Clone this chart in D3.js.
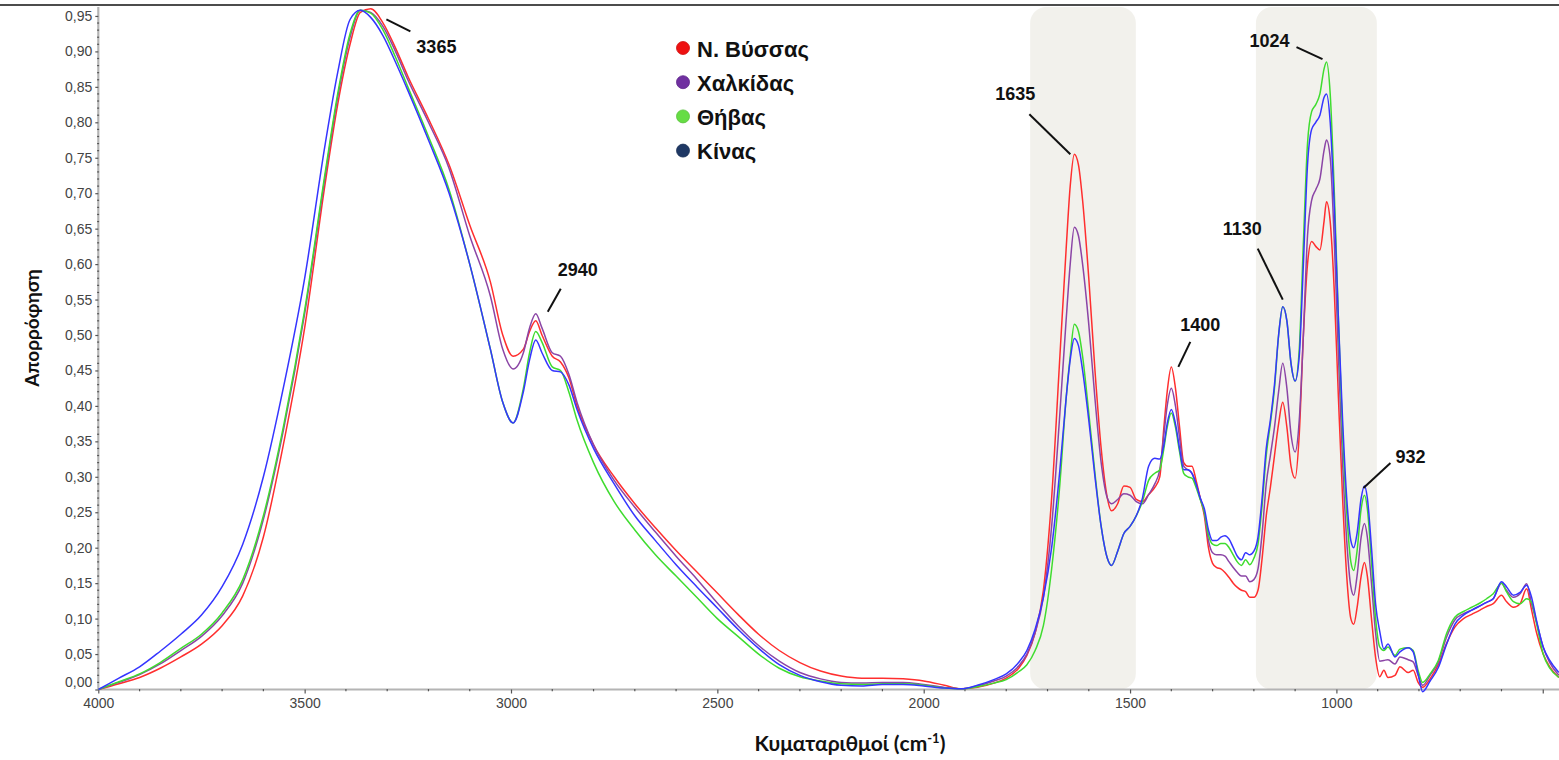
<!DOCTYPE html>
<html>
<head>
<meta charset="utf-8">
<script src="https://cdn.jsdelivr.net/npm/d3@7"></script>
<style>
  body { margin: 0; background: #fff; }
  svg { display: block; }
</style>
</head>
<body>
<svg id="chart" width="1559" height="760"></svg>
<script>
// FTIR absorbance spectra (wavenumber in cm-1)
const wavenumbers = [4000,3950,3900,3850,3800,3750,3700,3650,3600,3550,3500,3450,3420,3390,3365,3340,3310,3280,3250,3200,3150,3100,3050,3020,2995,2970,2955,2940,2925,2900,2880,2860,2840,2800,2750,2700,2650,2600,2550,2500,2450,2400,2350,2300,2250,2200,2150,2100,2050,2000,1950,1910,1870,1830,1800,1770,1750,1730,1710,1690,1670,1655,1645,1635,1625,1615,1600,1585,1570,1555,1545,1530,1515,1500,1485,1470,1455,1440,1428,1418,1410,1400,1390,1380,1370,1360,1350,1340,1330,1320,1310,1300,1290,1280,1270,1260,1250,1240,1230,1220,1210,1200,1190,1180,1170,1160,1150,1140,1130,1120,1110,1100,1090,1080,1070,1060,1050,1040,1030,1024,1015,1005,995,985,975,965,958,950,940,932,925,915,905,895,885,875,858,846,826,814,802,791,773,753,733,713,692,672,652,636,620,600,588,571,555,539,527,515,499,483,461];

const nVyssas = [0,0.008,0.017,0.03,0.046,0.064,0.09,0.132,0.215,0.35,0.51,0.715,0.825,0.91,0.955,0.96,0.94,0.905,0.865,0.805,0.74,0.655,0.575,0.5,0.47,0.48,0.505,0.52,0.5,0.47,0.462,0.44,0.4,0.345,0.3,0.262,0.228,0.196,0.166,0.136,0.106,0.078,0.055,0.038,0.026,0.019,0.016,0.016,0.015,0.012,0.006,0.001,0.003,0.009,0.016,0.03,0.048,0.08,0.14,0.27,0.47,0.62,0.71,0.755,0.74,0.69,0.58,0.45,0.34,0.27,0.252,0.262,0.287,0.285,0.268,0.265,0.275,0.285,0.3,0.37,0.42,0.455,0.425,0.37,0.32,0.315,0.315,0.295,0.27,0.245,0.2,0.178,0.172,0.17,0.165,0.158,0.15,0.144,0.14,0.138,0.13,0.13,0.14,0.185,0.245,0.285,0.33,0.375,0.405,0.37,0.315,0.298,0.36,0.5,0.6,0.632,0.625,0.62,0.66,0.688,0.66,0.56,0.41,0.27,0.16,0.1,0.092,0.115,0.16,0.179,0.16,0.1,0.045,0.018,0.027,0.017,0.02,0.032,0.024,0.027,0.01,0.003,0.015,0.035,0.065,0.088,0.1,0.106,0.112,0.117,0.121,0.133,0.124,0.116,0.121,0.142,0.112,0.08,0.05,0.032,0.017];

const chalkidas = [0,0.01,0.021,0.036,0.055,0.075,0.104,0.15,0.24,0.37,0.53,0.725,0.835,0.92,0.958,0.955,0.935,0.9,0.86,0.8,0.735,0.64,0.555,0.48,0.452,0.475,0.51,0.53,0.51,0.475,0.47,0.445,0.405,0.345,0.295,0.257,0.222,0.188,0.156,0.122,0.09,0.062,0.04,0.024,0.015,0.01,0.009,0.01,0.01,0.007,0.003,0.001,0.005,0.012,0.019,0.033,0.05,0.08,0.13,0.23,0.39,0.52,0.6,0.652,0.64,0.6,0.515,0.41,0.32,0.27,0.262,0.268,0.276,0.274,0.265,0.262,0.275,0.29,0.31,0.36,0.4,0.425,0.4,0.355,0.315,0.31,0.305,0.29,0.27,0.25,0.21,0.193,0.19,0.19,0.188,0.18,0.172,0.165,0.16,0.16,0.152,0.155,0.17,0.22,0.29,0.33,0.37,0.42,0.46,0.425,0.36,0.335,0.38,0.5,0.64,0.69,0.705,0.72,0.76,0.775,0.75,0.63,0.47,0.32,0.21,0.145,0.133,0.16,0.215,0.234,0.215,0.15,0.08,0.04,0.041,0.042,0.036,0.046,0.042,0.039,0.02,0.006,0.02,0.039,0.074,0.098,0.107,0.112,0.118,0.123,0.128,0.15,0.14,0.13,0.135,0.149,0.121,0.095,0.06,0.038,0.02];

const thivas = [0,0.011,0.022,0.038,0.058,0.078,0.108,0.155,0.245,0.375,0.535,0.73,0.84,0.925,0.958,0.954,0.93,0.892,0.85,0.78,0.705,0.6,0.48,0.405,0.376,0.425,0.475,0.505,0.49,0.455,0.45,0.42,0.38,0.32,0.265,0.225,0.19,0.16,0.13,0.1,0.075,0.05,0.03,0.018,0.012,0.008,0.007,0.008,0.008,0.006,0.002,0.001,0.004,0.009,0.014,0.025,0.035,0.055,0.09,0.17,0.29,0.41,0.47,0.515,0.505,0.47,0.39,0.305,0.23,0.185,0.175,0.195,0.22,0.23,0.245,0.265,0.295,0.305,0.31,0.34,0.37,0.39,0.37,0.335,0.305,0.3,0.298,0.285,0.268,0.25,0.218,0.205,0.203,0.206,0.206,0.2,0.19,0.18,0.175,0.183,0.176,0.185,0.205,0.26,0.33,0.375,0.425,0.5,0.54,0.52,0.46,0.435,0.48,0.63,0.77,0.815,0.825,0.84,0.875,0.885,0.84,0.7,0.52,0.36,0.25,0.18,0.168,0.195,0.255,0.274,0.255,0.18,0.1,0.06,0.055,0.06,0.048,0.057,0.059,0.055,0.027,0.01,0.022,0.041,0.079,0.102,0.11,0.116,0.122,0.128,0.135,0.15,0.138,0.124,0.121,0.128,0.123,0.093,0.05,0.03,0.017];

const kinas = [0,0.016,0.032,0.054,0.078,0.105,0.145,0.205,0.3,0.43,0.58,0.77,0.87,0.945,0.958,0.948,0.922,0.885,0.845,0.775,0.7,0.6,0.48,0.405,0.376,0.42,0.465,0.493,0.475,0.45,0.448,0.43,0.395,0.34,0.29,0.245,0.21,0.176,0.145,0.115,0.085,0.058,0.035,0.02,0.011,0.006,0.005,0.007,0.007,0.005,0.002,0.001,0.006,0.014,0.022,0.038,0.055,0.085,0.13,0.2,0.31,0.41,0.465,0.495,0.485,0.45,0.38,0.3,0.23,0.185,0.175,0.195,0.22,0.23,0.245,0.27,0.315,0.326,0.325,0.345,0.375,0.395,0.375,0.34,0.31,0.31,0.305,0.29,0.27,0.255,0.225,0.21,0.21,0.215,0.217,0.212,0.2,0.188,0.183,0.193,0.19,0.195,0.215,0.27,0.34,0.38,0.43,0.5,0.54,0.52,0.46,0.435,0.47,0.6,0.74,0.79,0.8,0.81,0.835,0.84,0.8,0.68,0.52,0.38,0.27,0.21,0.2,0.22,0.27,0.287,0.27,0.2,0.12,0.082,0.057,0.064,0.046,0.053,0.059,0.053,0.022,-0.003,0.012,0.031,0.064,0.092,0.105,0.112,0.118,0.123,0.128,0.152,0.145,0.133,0.137,0.147,0.13,0.097,0.06,0.041,0.024];

const seriesNames = ["Ν. Βύσσας", "Χαλκίδας", "Θήβας", "Κίνας"];
const seriesValues = [nVyssas, chalkidas, thivas, kinas];
const lineColors = ["#ff2e2e", "#8b45a6", "#3fdc2f", "#3535ff"];
const legendColors = ["#ee1111", "#7030a0", "#66dd44", "#1f3864"];

const xMajorTicks = [4000, 3500, 3000, 2500, 2000, 1500, 1000, 500];
const xTickLabels = [4000, 3500, 3000, 2500, 2000, 1500, 1000];
const yTickValues = [0, 0.05, 0.10, 0.15, 0.20, 0.25, 0.30, 0.35, 0.40, 0.45, 0.50, 0.55, 0.60, 0.65, 0.70, 0.75, 0.80, 0.85, 0.90, 0.95];
const peakLabels = [3365, 2940, 1635, 1400, 1130, 1024, 932];
const highlightBands = [[1742, 1486], [1195, 902]];

const xAxisTitle = "Κυματαριθμοί (cm";
const yAxisTitle = "Απορρόφηση";

// ---- layout ----
const W = 1559, H = 760;
const left = 98.3, zeroY = 689.5;
const x = d3.scaleLinear().domain([4000, 400]).range([left, left + 3600 * 0.4127]);
const y = d3.scaleLinear().domain([0, 0.962]).range([zeroY, zeroY - 0.962 * 709]);

const svg = d3.select("#chart");
const tickFont = "'Liberation Sans', Arial, sans-serif";

svg.append("defs").append("clipPath").attr("id", "plot-clip")
  .append("rect").attr("x", left).attr("y", 0).attr("width", W - left).attr("height", H);

// top frame line
svg.append("line").attr("x1", 0).attr("x2", W).attr("y1", 5).attr("y2", 5)
  .attr("stroke", "#111").attr("stroke-width", 1.6);

// highlighted regions
svg.append("g").selectAll("rect").data(highlightBands).join("rect")
  .attr("x", d => x(d[0]))
  .attr("width", d => x(d[1]) - x(d[0]))
  .attr("y", 7)
  .attr("height", zeroY - 7)
  .attr("rx", 16).attr("ry", 16)
  .attr("fill", "#f2f1ec");

// axes
const fmtY = v => d3.format(".2f")(v).replace(".", ",");

const yAxisG = svg.append("g").attr("transform", `translate(${left},0)`)
  .call(d3.axisLeft(y).tickValues(yTickValues).tickSize(3).tickPadding(3).tickFormat(fmtY));
const xAxisG = svg.append("g").attr("transform", `translate(0,${zeroY})`)
  .call(d3.axisBottom(x).tickValues(xMajorTicks).tickSize(4).tickPadding(5)
    .tickFormat(d => xTickLabels.includes(d) ? d : ""));

[yAxisG, xAxisG].forEach(g => {
  g.select(".domain").attr("stroke", "#b4b4b4").attr("stroke-width", 2.2);
  g.selectAll(".tick line").attr("stroke", "#555").attr("stroke-width", 1.2);
  g.selectAll(".tick text").attr("fill", "#444").attr("font-size", 14).attr("font-family", tickFont);
});
yAxisG.select(".domain").attr("d", `M0,${zeroY}V7`);
xAxisG.select(".domain").attr("d", `M${left},0H${W}`);
yAxisG.selectAll(".tick").filter(d => d === 0).select("text").attr("dy", "-0.25em");

// minor ticks
const minorX = d3.range(4000, 450, -100).filter(v => !xMajorTicks.includes(v));
svg.append("g").selectAll("line").data(minorX).join("line")
  .attr("x1", d => x(d)).attr("x2", d => x(d))
  .attr("y1", zeroY - 0.5).attr("y2", zeroY + 1.8)
  .attr("stroke", "#555").attr("stroke-width", 1.2);
const isMinorY = v => Math.round(v * 100) % 5 !== 0;
const minorY = d3.range(1, 96).map(i => i / 100).filter(isMinorY);
svg.append("g").selectAll("line").data(minorY).join("line")
  .attr("x1", left - 1.2).attr("x2", left + 0.8)
  .attr("y1", d => y(d)).attr("y2", d => y(d))
  .attr("stroke", "#555").attr("stroke-width", 1.2);

// spectra
const line = d3.line()
  .x(d => x(d[0]))
  .y(d => y(d[1]))
  .curve(d3.curveMonotoneX);

const plot = svg.append("g").attr("clip-path", "url(#plot-clip)");
seriesValues.forEach((vals, i) => {
  plot.append("path")
    .datum(wavenumbers.map((w, k) => [w, vals[k]]))
    .attr("fill", "none")
    .attr("stroke", lineColors[i])
    .attr("stroke-width", 1.5)
    .attr("stroke-linejoin", "round")
    .attr("d", line);
});

// peak annotations: leader line offsets and label placement relative to the peak
const annotationLayout = {
  3365: { line: [26, 9, 50, 21], text: [56, 43], anchor: "start" },
  2940: { line: [12, -2, 25, -25], text: [22, -38], anchor: "start" },
  1635: { line: [-4, 0, -45, -40], text: [-39, -54], anchor: "end" },
  1400: { line: [7, 0, 19, -25], text: [9, -36], anchor: "start" },
  1130: { line: [0, -7, -25, -58], text: [-21, -72], anchor: "end" },
  1024: { line: [-4, -3, -30, -15], text: [-37, -15], anchor: "end" },
  932:  { line: [-1, 2, 26, -23], text: [31, -23], anchor: "start" }
};
const ann = svg.append("g");
peakLabels.forEach(w => {
  const k = wavenumbers.indexOf(w);
  const peak = d3.max(seriesValues, s => s[k]);
  const px = x(w), py = y(peak);
  const L = annotationLayout[w];
  ann.append("line")
    .attr("x1", px + L.line[0]).attr("y1", py + L.line[1])
    .attr("x2", px + L.line[2]).attr("y2", py + L.line[3])
    .attr("stroke", "#111").attr("stroke-width", 2);
  ann.append("text")
    .attr("x", px + L.text[0]).attr("y", py + L.text[1])
    .attr("text-anchor", L.anchor)
    .attr("font-family", tickFont).attr("font-weight", "bold")
    .attr("font-size", 18).attr("fill", "#111")
    .text(w);
});

// legend
const legend = svg.append("g").attr("transform", "translate(683,48)");
seriesNames.forEach((name, i) => {
  const g = legend.append("g").attr("transform", `translate(0,${i * 34.2})`);
  g.append("circle").attr("r", 6.5).attr("fill", legendColors[i])
    .attr("stroke", d3.color(legendColors[i]).darker(0.4)).attr("stroke-width", 0.8);
  g.append("text").attr("x", 14).attr("y", 8.5)
    .attr("font-family", tickFont).attr("font-weight", "bold")
    .attr("font-size", 22).attr("fill", "#111").text(name);
});

// axis titles
const titleFont = "Lato, 'Open Sans', sans-serif";
const xt = svg.append("text").attr("x", 850).attr("y", 751)
  .attr("text-anchor", "middle").attr("font-family", titleFont)
  .attr("font-weight", "bold").attr("font-size", 21).attr("fill", "#111");
xt.append("tspan").text(xAxisTitle);
xt.append("tspan").attr("dy", -8).attr("font-size", 13).text("-1");
xt.append("tspan").attr("dy", 8).text(")");

svg.append("text")
  .attr("transform", "translate(39,328) rotate(-90)")
  .attr("text-anchor", "middle").attr("font-family", titleFont)
  .attr("font-weight", "bold").attr("font-size", 19).attr("fill", "#111")
  .text(yAxisTitle);
</script>
</body>
</html>
